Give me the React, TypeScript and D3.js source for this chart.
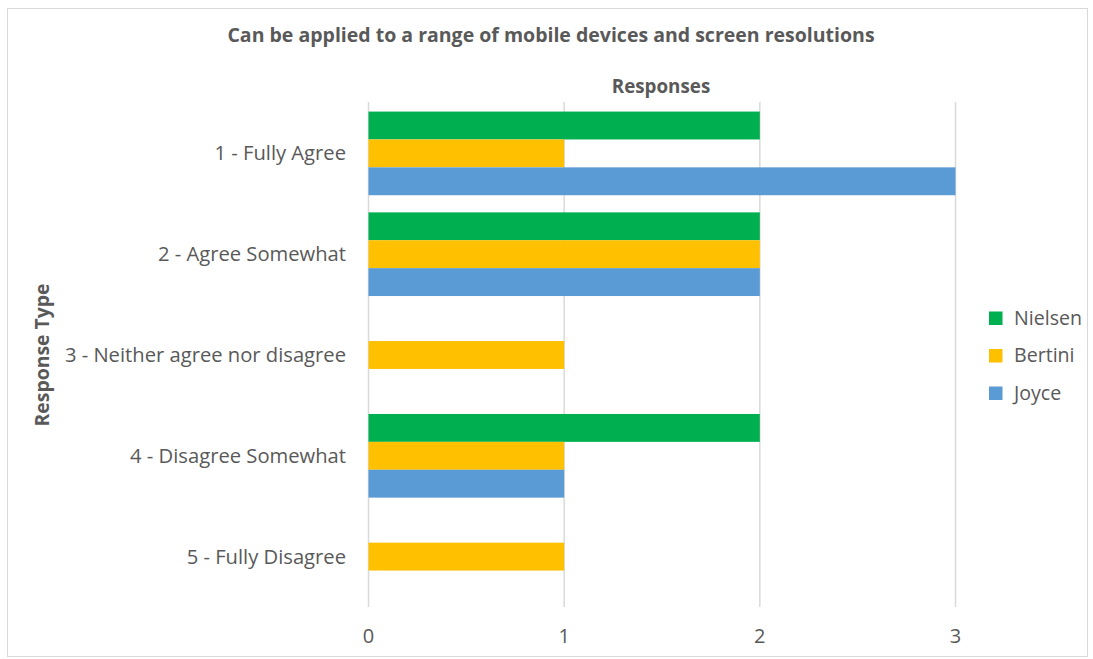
import React from "react";
import * as d3 from "d3";

const categories = [
  "1 - Fully Agree",
  "2 - Agree Somewhat",
  "3 - Neither agree nor disagree",
  "4 - Disagree Somewhat",
  "5 - Fully Disagree",
];
const seriesNames = ["Nielsen", "Bertini", "Joyce"];
const nielsen = [2, 2, 0, 2, 0];
const bertini = [1, 2, 1, 1, 1];
const joyce = [3, 2, 0, 1, 0];
const xTicks = [0, 1, 2, 3];
const colors = ["#00B050", "#FFC000", "#5B9BD5"];

const W = 1093;
const H = 659;
const FONT = "'Open Sans', sans-serif";
const TEXT = "#595959";

export default function App() {
  const values = [nielsen, bertini, joyce];
  const x = d3.scaleLinear().domain([0, 3]).range([368.5, 955.5]);
  const y = d3
    .scaleBand<string>()
    .domain(categories)
    .range([103, 607])
    .paddingInner(0.17)
    .paddingOuter(0.085);
  const inner = d3
    .scaleBand<string>()
    .domain(seriesNames)
    .range([0, y.bandwidth()]);

  return (
    <svg
      width={W}
      height={H}
      style={{ position: "absolute", left: 0, top: 0, fontFamily: FONT }}
    >
      <rect x={0} y={0} width={W} height={H} fill="#fff" />
      <rect
        x={7.5}
        y={8.5}
        width={1080}
        height={648}
        fill="#fff"
        stroke="#D9D9D9"
        strokeWidth={1}
      />
      <text
        x={551}
        y={42}
        textAnchor="middle"
        fontSize={19.5}
        fontWeight={700}
        fill={TEXT}
      >
        Can be applied to a range of mobile devices and screen resolutions
      </text>
      <text
        x={661}
        y={93}
        textAnchor="middle"
        fontSize={18.8}
        fontWeight={700}
        fill={TEXT}
      >
        Responses
      </text>
      {xTicks.map((t) => (
        <line
          key={t}
          x1={x(t)}
          x2={x(t)}
          y1={102}
          y2={607}
          stroke="#D9D9D9"
          strokeWidth={1.5}
        />
      ))}
      {categories.map((c, i) => (
        <g key={c}>
          {seriesNames.map((s, j) => {
            const v = values[j][i];
            if (!v) return null;
            return (
              <rect
                key={s}
                x={x(0)}
                y={(y(c) as number) + (inner(s) as number)}
                width={x(v) - x(0)}
                height={inner.bandwidth()}
                fill={colors[j]}
              />
            );
          })}
          <text
            x={346}
            y={(y(c) as number) + y.bandwidth() / 2}
            dy="0.35em"
            textAnchor="end"
            fontSize={20.2}
            fill={TEXT}
          >
            {c}
          </text>
        </g>
      ))}
      {xTicks.map((t) => (
        <text
          key={t}
          x={x(t)}
          y={636}
          dy="0.35em"
          textAnchor="middle"
          fontSize={20}
          fill={TEXT}
        >
          {t}
        </text>
      ))}
      <text
        transform="translate(42,355) rotate(-90)"
        textAnchor="middle"
        dy="0.35em"
        fontSize={19.4}
        fontWeight={700}
        fill={TEXT}
      >
        Response Type
      </text>
      {seriesNames.map((s, j) => (
        <g key={s} transform={`translate(989, ${318 + j * 37.5})`}>
          <rect x={0} y={-6.5} width={13.5} height={13.5} fill={colors[j]} />
          <text x={25} y={0} dy="0.35em" fontSize={19.6} fill={TEXT}>
            {s}
          </text>
        </g>
      ))}
    </svg>
  );
}
